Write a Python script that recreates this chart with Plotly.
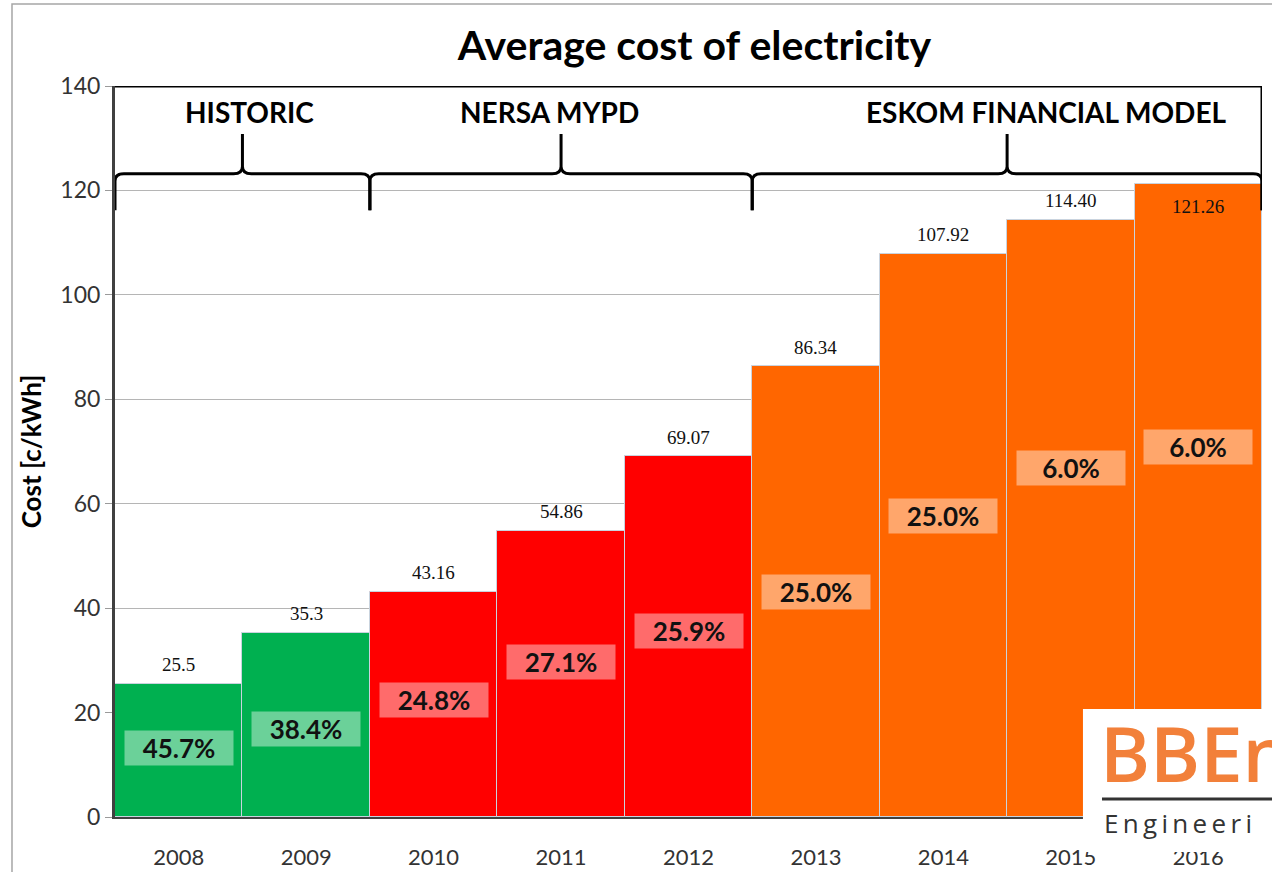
import plotly.graph_objects as go

# ---------------- data ----------------
years = [2008, 2009, 2010, 2011, 2012, 2013, 2014, 2015, 2016]
cost = [25.5, 35.3, 43.16, 54.86, 69.07, 86.34, 107.92, 114.40, 121.26]
cost_labels = ["25.5", "35.3", "43.16", "54.86", "69.07", "86.34", "107.92", "114.40", "121.26"]
growth_pct = [45.7, 38.4, 24.8, 27.1, 25.9, 25.0, 25.0, 6.0, 6.0]
period = ["HISTORIC", "HISTORIC", "NERSA MYPD", "NERSA MYPD", "NERSA MYPD",
          "ESKOM FINANCIAL MODEL", "ESKOM FINANCIAL MODEL", "ESKOM FINANCIAL MODEL",
          "ESKOM FINANCIAL MODEL"]
periods = ["HISTORIC", "NERSA MYPD", "ESKOM FINANCIAL MODEL"]
title_text = "Average cost of electricity"
y_title = "Cost [c/kWh]"
logo_main = "BBEn"
logo_sub = "Engineeri"

# ---------------- styling ----------------
period_colors = {"HISTORIC": "#00B050", "NERSA MYPD": "#FF0000",
                 "ESKOM FINANCIAL MODEL": "#FF6600"}
# where inside each bar the growth box sits (fraction of bar height)
pct_label_frac = [0.52, 0.48, 0.52, 0.54, 0.515, 0.50, 0.535, 0.585, 0.585]
period_label_xshift = {"HISTORIC": 7, "NERSA MYPD": -12, "ESKOM FINANCIAL MODEL": 39}
FONT = "Lato"

fig = go.Figure()
fig.add_trace(go.Bar(
    x=years, y=cost, width=1,
    marker=dict(color=[period_colors[p] for p in period],
                line=dict(color="#c9d3de", width=1)),
    hoverinfo="x+y", showlegend=False,
))

annotations = []
# value labels
for yr, v, lab in zip(years, cost, cost_labels):
    inside = v > 118
    annotations.append(dict(
        x=yr, y=v, xref="x", yref="y", text=lab, showarrow=False,
        yshift=-23 if inside else 19,
        font=dict(family="Liberation Serif", size=19, color="#111111"),
    ))
# growth boxes
for yr, v, g, f in zip(years, cost, growth_pct, pct_label_frac):
    annotations.append(dict(
        x=yr, y=v * f, xref="x", yref="y", text=f"<b>{g:.1f}%</b>", showarrow=False,
        width=102, height=28, borderpad=3,
        bgcolor="rgba(255,255,255,0.42)",
        font=dict(family=FONT, size=26, color="#111111"),
    ))

# braces with period labels
shapes = []
bounds = []
start = years[0] - 0.5
for p in periods:
    n = period.count(p)
    bounds.append((p, start, start + n))
    start += n

y_end, y_bar, y_peak = 116.2, 123.2, 130.8
rx, ry = 0.07, 1.4
for p, a, b in bounds:
    m = (a + b) / 2
    path = (f"M {a},{y_end} L {a},{y_bar - ry} Q {a},{y_bar} {a + rx},{y_bar} "
            f"L {m - rx},{y_bar} Q {m},{y_bar} {m},{y_bar + ry} L {m},{y_peak} "
            f"L {m},{y_bar + ry} Q {m},{y_bar} {m + rx},{y_bar} "
            f"L {b - rx},{y_bar} Q {b},{y_bar} {b},{y_bar - ry} L {b},{y_end}")
    shapes.append(dict(type="path", xref="x", yref="y", path=path,
                       line=dict(color="black", width=3)))
    annotations.append(dict(
        x=m, y=135.0, xref="x", yref="y", text=f"<b>{p}</b>", showarrow=False,
        xshift=period_label_xshift[p],
        font=dict(family=FONT, size=28, color="black"),
    ))

# top frame line and right edge of the bracket box
x_lo, x_hi = years[0] - 0.5, years[-1] + 0.5
shapes.append(dict(type="path", xref="x", yref="y",
                   path=f"M {x_lo},140 L {x_hi},140 L {x_hi},{y_end}",
                   line=dict(color="black", width=3)))

# outer light frame
shapes.append(dict(type="path", xref="paper", yref="paper",
                   path="M -0.0898,-0.1 L -0.0898,1.1122 L 1.02,1.1122",
                   line=dict(color="#a6a6a6", width=1.5)))

# logo box
shapes.append(dict(type="rect", xref="paper", yref="paper",
                   x0=0.8439, x1=1.02, y0=-0.0479, y1=0.1477,
                   fillcolor="white", line=dict(width=0), layer="above"))
shapes.append(dict(type="line", xref="paper", yref="paper",
                   x0=0.8605, x1=1.02, y0=0.0246, y1=0.0246,
                   line=dict(color="#333333", width=3), layer="above"))
annotations.append(dict(
    x=0.857, y=0.0150, xref="paper", yref="paper", xanchor="left", yanchor="bottom",
    text=logo_main, showarrow=False,
    font=dict(family="Open Sans", size=76, color="#F2803A", weight=600),
))
annotations.append(dict(
    x=0.8605, y=0.0195, xref="paper", yref="paper", xanchor="left", yanchor="top",
    text="\u2009".join(logo_sub), showarrow=False,
    font=dict(family="Open Sans", size=26, color="#333333"),
))

fig.update_layout(
    width=1272, height=872,
    margin=dict(l=115, r=10, t=86, b=55),
    paper_bgcolor="white", plot_bgcolor="white",
    title=dict(text=f"<b>{title_text}</b>", x=0.546, xref="container",
               y=0.948, yref="container", xanchor="center", yanchor="middle",
               font=dict(family=FONT, size=41, color="black")),
    xaxis=dict(range=[x_lo, x_hi], tickvals=years, ticktext=[str(y) for y in years],
               showgrid=False, zeroline=False, showline=True, linecolor="#404040",
               linewidth=2, ticks="outside", ticklen=20, tickcolor="rgba(0,0,0,0)",
               automargin=False,
               tickfont=dict(family=FONT, size=22, color="#333333")),
    yaxis=dict(range=[0, 140], dtick=20, showgrid=True, gridcolor="#b5b5b5",
               gridwidth=1, zeroline=False, showline=True, linecolor="#404040",
               linewidth=3, ticks="outside", ticklen=7, tickcolor="#9a9a9a",
               automargin=False,
               tickfont=dict(family=FONT, size=23, color="#333333"),
               title=dict(text=f"<b>{y_title}</b>", standoff=12,
                          font=dict(family=FONT, size=26, color="black"))),
    annotations=annotations, shapes=shapes, bargap=0,
)

fig.write_html("out.html", config={"displayModeBar": False},
               post_script="document.body.style.margin='0';document.body.style.overflow='hidden';")
